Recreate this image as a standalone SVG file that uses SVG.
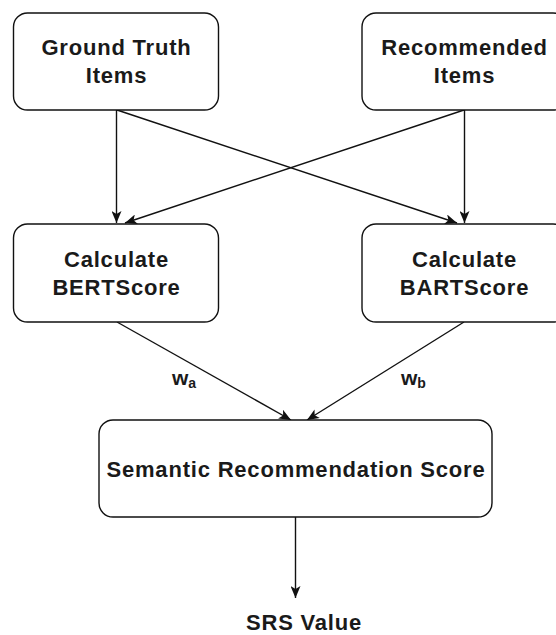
<svg xmlns="http://www.w3.org/2000/svg" width="556" height="635" viewBox="0 0 556 635">
<style>
  .box { fill: #ffffff; stroke: #111111; stroke-width: 1.4; }
  .lbl { font-family: "Liberation Sans", Arial, sans-serif; font-weight: bold; font-size: 22px; fill: #1a1a1a; text-anchor: middle; letter-spacing: 0.8px; }
  .w { font-family: "Liberation Sans", Arial, sans-serif; font-weight: bold; font-size: 21px; fill: #1a1a1a; }
  .sub { font-size: 14px; }
  .edge { fill: none; stroke: #111111; stroke-width: 1.4; marker-end: url(#arr); }
</style>
<defs>
  <marker id="arr" viewBox="0 0 12 10" refX="12" refY="5" markerWidth="12" markerHeight="10" markerUnits="userSpaceOnUse" orient="auto">
    <path d="M0,0 L12,5 L0,10 L3,5 Z" fill="#111111"/>
  </marker>
</defs>
<rect width="556" height="635" fill="#ffffff"/>
<g id="connectors">
  <line class="edge" x1="116.5" y1="110" x2="116.5" y2="223"/>
  <line class="edge" x1="464.5" y1="110" x2="464.5" y2="223"/>
  <line class="edge" x1="117" y1="110" x2="457" y2="223"/>
  <line class="edge" x1="464" y1="110" x2="125" y2="223"/>
  <line class="edge" x1="117" y1="322" x2="291" y2="420"/>
  <line class="edge" x1="464" y1="322" x2="307" y2="420"/>
  <line class="edge" x1="295.5" y1="517" x2="295.5" y2="598"/>
</g>
<g id="node-ground-truth">
  <rect class="box" x="13.5" y="13" width="205" height="97" rx="14" ry="14"/>
  <text class="lbl" x="116.5" y="55">Ground Truth</text>
  <text class="lbl" x="116.5" y="83">Items</text>
</g>
<g id="node-recommended">
  <rect class="box" x="362" y="13" width="205" height="97" rx="14" ry="14"/>
  <text class="lbl" x="464.5" y="55">Recommended</text>
  <text class="lbl" x="464.5" y="83">Items</text>
</g>
<g id="node-bertscore">
  <rect class="box" x="13.5" y="224" width="205" height="98" rx="14" ry="14"/>
  <text class="lbl" x="116.5" y="267">Calculate</text>
  <text class="lbl" x="116.5" y="295">BERTScore</text>
</g>
<g id="node-bartscore">
  <rect class="box" x="362" y="224" width="205" height="98" rx="14" ry="14"/>
  <text class="lbl" x="464.5" y="267">Calculate</text>
  <text class="lbl" x="464.5" y="295">BARTScore</text>
</g>
<g id="node-srs">
  <rect class="box" x="99" y="420" width="393" height="97" rx="14" ry="14"/>
  <text class="lbl" x="296" y="477">Semantic Recommendation Score</text>
</g>
<g id="label-wa">
  <text class="w" x="172" y="385">w<tspan class="sub" dy="3">a</tspan></text>
</g>
<g id="label-wb">
  <text class="w" x="401" y="385">w<tspan class="sub" dy="3">b</tspan></text>
</g>
<g id="node-srs-value">
  <text class="lbl" x="304" y="630">SRS Value</text>
</g>
</svg>
